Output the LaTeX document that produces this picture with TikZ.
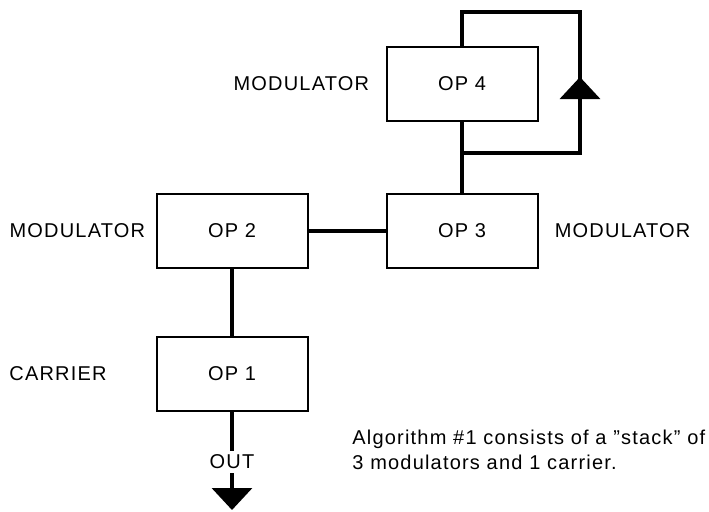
\documentclass[tikz,border=0pt]{standalone}
\usepackage{fontspec}
\setmainfont{Liberation Sans}[LetterSpace=6]
\usetikzlibrary{positioning,arrows.meta}

\begin{document}
\begin{tikzpicture}[
  x=0.5pt, y=0.5pt,
  font=\fontsize{10}{12.5}\selectfont,
  op/.style   = {draw, line width=1pt, minimum width=75.5pt,
                 minimum height=37pt, inner sep=0pt},
  lbl/.style  = {inner sep=0pt},
  wire/.style = {line width=1.8pt},
  tip/.style  = {-{Triangle[width=20pt,length=11pt]}},
]
\useasboundingbox (0,0) rectangle (709,511);

% operators
\node[op] (op4) at (462,427) {OP 4};
\node[op] (op3) at (462,280) {OP 3};
\node[op] (op2) at (232,280) {OP 2};
\node[op] (op1) at (232,137) {OP 1};

% roles
\node[lbl, left=8pt of op4]   (m4) {MODULATOR};
\node[lbl, right=8pt of op3]  (m3) {MODULATOR};
\node[lbl, left=5pt of op2]   (m2) {MODULATOR};
\node[lbl, anchor=west] (car) at (9,137) {CARRIER};

% links
\draw[wire] (op2) -- (op3);
\draw[wire] (op2) -- (op1);
\coordinate (jn) at (462,358);
\draw[wire] (op4) -- (op3);

% feedback of op 4
\coordinate (fb1) at (462,499);
\coordinate (fb2) at (580,499);
\coordinate (fb3) at (580,358);
\coordinate (fbt) at (580,434);
\draw[wire] (op4.north) -- (fb1) -- (fb2) -- (fb3) -- (jn);
\draw[wire, tip] (fb3) -- (fbt);

% output
\node[lbl, inner sep=2pt] (out) at (232,49) {OUT};
\coordinate (end) at (232,1);
\draw[wire] (op1) -- (out);
\draw[wire, tip] (out) -- (end);

% caption
\node[lbl, align=left, anchor=north west] (cap) at (352,81)
  {Algorithm \#1 consists of a ''stack'' of\\3 modulators and 1 carrier.};
\end{tikzpicture}
\end{document}
